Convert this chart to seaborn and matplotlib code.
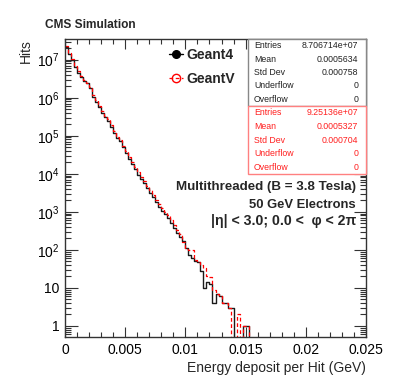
import numpy as np
import pandas as pd
import matplotlib
matplotlib.use("Agg")
import matplotlib.pyplot as plt
from matplotlib.lines import Line2D
from matplotlib.patches import Rectangle
from matplotlib.ticker import LogLocator, MultipleLocator, NullFormatter
import seaborn as sns

# energy binning (GeV)
bin_width = 0.00025
n_bins = 100

# hits per bin (bins above 0.01525 GeV are empty)
geant4_counts = [
    2.1e7, 1.4e7, 1.0e7, 6.3e6, 4.6e6, 3.5e6, 2.8e6, 2.4e6, 1.8e6, 1.07e6,
    7.9e5, 5.8e5, 4.0e5, 3.2e5, 2.5e5, 1.74e5, 1.2e5, 8.5e4, 7.1e4, 5.0e4,
    3.5e4, 2.5e4, 1.8e4, 1.35e4, 9500, 7200, 5600, 4200, 3200, 2400,
    1800, 1350, 1050, 850, 690, 500, 380, 280, 220, 175,
    112, 74, 62, 50, 48, 28, 10, 14, 13, 4,
    7, 6, 4, 4, 3, 3, 0, 0, 0, 1,
    1,
] + [0] * 39
geantv_counts = [
    2.3e7, 1.5e7, 1.05e7, 6.8e6, 4.9e6, 3.7e6, 3.0e6, 2.5e6, 1.9e6, 1.2e6,
    8.5e5, 6.2e5, 4.4e5, 3.4e5, 2.7e5, 1.9e5, 1.35e5, 9.5e4, 7.6e4, 5.5e4,
    3.9e4, 2.8e4, 2.0e4, 1.5e4, 1.1e4, 8200, 6400, 4800, 3700, 2800,
    2100, 1600, 1250, 1000, 800, 600, 460, 340, 260, 160,
    105, 100, 100, 55, 48, 40, 34, 20, 19, 9,
    7, 6, 4, 4, 3, 0, 0, 2, 0, 1,
    1,
] + [0] * 39

stats_labels = ["Entries", "Mean", "Std Dev", "Underflow", "Overflow"]
geant4_stats = ["8.706714e+07", "0.0005634", "0.000758", "0", "0"]
geantv_stats = ["9.25136e+07", "0.0005327", "0.000704", "0", "0"]

sns.set_style("ticks")
plt.rcParams["font.family"] = ["Liberation Sans", "DejaVu Sans"]
plt.rcParams["mathtext.fontset"] = "custom"
plt.rcParams["mathtext.rm"] = "Liberation Sans"
plt.rcParams["mathtext.it"] = "Liberation Sans:italic"

W, H = 407, 388
fig = plt.figure(figsize=(W / 100, H / 100), dpi=100)
ax = fig.add_axes([65 / W, 1 - 337 / H, 301 / W, 298 / H])

centers = (np.arange(n_bins) + 0.5) * bin_width
df = pd.DataFrame({"energy": centers, "g4": geant4_counts, "gv": geantv_counts})
brange = (0, n_bins * bin_width)

sns.histplot(data=df, x="energy", weights="g4", bins=n_bins, binrange=brange,
             element="step", fill=False, color="#1a1a1a", linewidth=1.0, ax=ax)
sns.histplot(data=df, x="energy", weights="gv", bins=n_bins, binrange=brange,
             element="step", fill=False, color="red", linewidth=0.9,
             linestyle=(0, (3, 2)), ax=ax)

ax.set_yscale("log")
ax.set_xlim(0, 0.025)
ax.set_ylim(0.51, 3.5e7)

# ticks, ROOT style
yt = [1, 10, 1e2, 1e3, 1e4, 1e5, 1e6, 1e7]
ax.set_yticks(yt)
ax.set_yticklabels(["1", "10"] + [r"$10^{%d}$" % k for k in range(2, 8)])
ax.yaxis.set_minor_locator(LogLocator(base=10, subs=range(2, 10)))
ax.yaxis.set_minor_formatter(NullFormatter())
ax.set_xticks([0, 0.005, 0.01, 0.015, 0.02, 0.025])
ax.set_xticklabels(["0", "0.005", "0.01", "0.015", "0.02", "0.025"])
ax.xaxis.set_minor_locator(MultipleLocator(0.001))
ax.tick_params(which="both", direction="in", top=True, right=True,
               colors="#333333", labelcolor="black", width=0.8)
ax.tick_params(axis="x", which="major", length=7, labelsize=10, pad=4)
ax.tick_params(axis="x", which="minor", length=3.5)
ax.tick_params(axis="y", which="major", length=9, labelsize=10, pad=4)
ax.tick_params(axis="y", which="minor", length=4.5)
for s in ax.spines.values():
    s.set_color("#333333")
    s.set_linewidth(1.0)

ax.set_xlabel("Energy deposit per Hit (GeV)", fontsize=10, loc="right")
ax.xaxis.set_label_coords(1.0, -0.08)
ax.set_ylabel("Hits", fontsize=10, loc="top")
ax.yaxis.set_label_coords(-0.108, 1.0)

fig.text(45 / W, 1 - 25 / H, "CMS Simulation", fontsize=8.6, fontweight="bold",
         ha="left", va="center")

# legend
handles = [
    Line2D([], [], color="black", marker="o", markersize=5.5, linestyle="-", linewidth=1),
    Line2D([], [], color="red", marker="o", markersize=6, markerfacecolor="none",
           linestyle=(0, (3, 2)), linewidth=0.9),
]
leg = ax.legend(handles, ["Geant4", "GeantV"], loc="upper left",
                bbox_to_anchor=((163 - 65) / 301, (337 - 42) / 298), frameon=False,
                handlelength=1.05, handletextpad=0.2, labelspacing=0.75,
                prop={"weight": "bold", "size": 10}, borderaxespad=0)

# stats boxes
def box(top, bottom, edge, labels, values, color):
    fig.patches.append(Rectangle((248 / W, 1 - bottom / H), 118 / W, (bottom - top) / H,
                                 transform=fig.transFigure, facecolor="white",
                                 edgecolor=edge, linewidth=1.0, zorder=5))
    row_h = (bottom - top) / 5
    for i, (lab, val) in enumerate(zip(labels, values)):
        yy = 1 - (top + row_h * (i + 0.5)) / H
        fig.text(254 / W, yy, lab, fontsize=6.3, color=color, ha="left", va="center", zorder=6)
        fig.text(358 / W, yy, val, fontsize=6.3, color=color, ha="right", va="center", zorder=6)

box(39, 106, "#888888", stats_labels, geant4_stats, "#222222")
box(106, 174, "#ff8080", stats_labels, geantv_stats, "#ff2020")

tx = (356 - 65) / 301
ax.text(tx, (337 - 187) / 298, "Multithreaded (B = 3.8 Tesla)", transform=ax.transAxes,
        ha="right", va="center", fontsize=9.6, fontweight="bold")
ax.text(tx, (337 - 205) / 298, "50 GeV Electrons", transform=ax.transAxes,
        ha="right", va="center", fontsize=9.4, fontweight="bold")
ax.text(tx, (337 - 221) / 298, "|\u03b7| < 3.0; 0.0 <  \u03c6 < 2\u03c0", transform=ax.transAxes,
        ha="right", va="center", fontsize=10.2, fontweight="bold")

fig.savefig("out.png", dpi=100, facecolor="white")
